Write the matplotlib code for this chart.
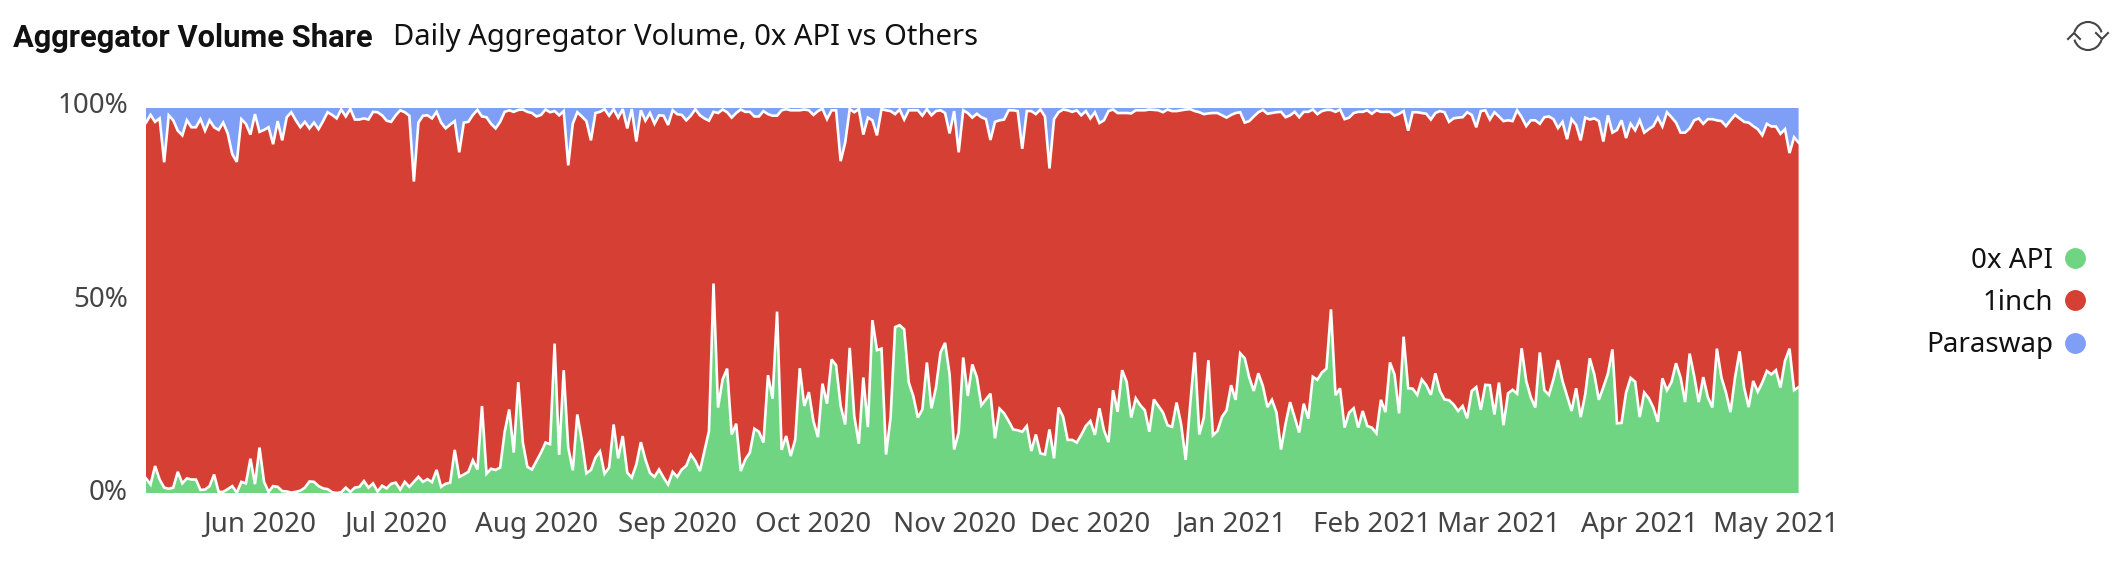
import datetime as dt
import matplotlib
matplotlib.use("Agg")
import matplotlib.pyplot as plt
from matplotlib.lines import Line2D
from matplotlib.patches import Arc
from matplotlib.transforms import ScaledTranslation

W, H = 2116, 580
start = dt.date(2020, 5, 7)

zero_x = [3.8,2.2,7.0,3.5,1.4,1.1,1.4,5.5,2.5,3.8,3.5,3.5,0.8,0.9,1.8,4.8,0.3,0.3,1.0,1.8,0.1,2.9,2.5,8.9,2.3,11.8,2.9,0.3,1.8,1.6,
0.5,0.4,0.1,0.3,0.6,1.4,3.0,2.9,1.8,1.2,1.0,0.2,0,0.2,1.4,0.3,1.4,1.6,3.1,1.4,2.5,0.4,1.9,1.2,2.4,2.7,0.9,2.9,1.6,2.9,
4.2,2.9,3.6,2.8,6.0,1.6,2.4,2.7,11.2,4.2,4.8,5.5,8.5,6.1,22.6,5.0,6.3,6.0,6.6,15.9,21.7,10.5,28.8,13.1,6.8,6.1,8.3,10.5,13.1,12.7,
38.8,9.9,31.9,11.8,5.9,20.4,13.5,5.1,6.0,9.2,10.8,5.0,6.6,17.8,9.0,14.8,5.3,4.0,7.4,13.2,8.7,5.2,4.2,6.1,4.0,2.2,5.5,4.2,6.1,7.1,
10.0,8.3,5.7,10.9,16.1,54.4,22.2,29.5,32.3,15.2,18.0,5.7,8.7,10.5,16.7,15.9,13.1,30.6,24.5,47.1,11.2,14.8,9.6,13.9,32.4,22.6,26.2,18.7,14.5,28.4,
23.2,34.7,33.2,22.6,17.8,37.7,20.0,12.8,30.0,17.1,44.9,37.1,37.5,10.0,19.6,43.1,43.6,42.5,28.7,25.2,19.6,21.7,33.9,22.0,27.4,36.5,39.0,30.8,11.3,15.7,
35.2,25.2,33.4,30.1,22.8,24.3,25.8,14.2,21.9,20.7,18.7,16.5,16.3,15.9,17.4,10.9,15.2,10.3,10.0,16.5,9.0,22.2,19.8,13.8,13.8,13.1,15.1,17.4,18.7,15.1,
22.0,16.3,13.2,26.7,21.1,31.9,28.9,19.6,24.6,22.8,21.5,15.9,24.3,22.6,20.9,17.6,17.2,23.5,17.8,8.6,23.0,36.5,15.2,19.6,34.5,15.0,16.1,19.8,21.5,28.0,
24.2,36.3,35.0,30.0,26.5,31.1,27.8,22.3,24.2,20.9,11.3,18.0,23.6,19.6,15.7,23.2,19.3,30.2,29.4,31.3,32.3,47.7,25.4,27.2,17.0,20.9,22.0,17.0,21.3,17.4,
17.0,15.5,24.2,21.0,33.9,30.8,20.7,40.6,27.2,27.1,25.5,29.5,28.0,25.5,31.1,26.5,24.3,24.1,23.0,21.3,22.6,19.4,26.5,27.5,21.6,28.1,28.0,20.4,28.7,17.6,
25.9,26.8,25.8,37.6,29.1,24.9,22.2,36.5,26.7,25.5,29.5,34.5,29.1,25.2,21.3,27.2,19.7,25.6,35.0,30.8,24.2,27.5,31.0,37.3,18.1,18.2,26.1,29.9,28.9,19.7,
26.1,24.6,22.2,18.5,29.8,26.7,28.8,33.7,30.0,23.6,36.2,30.4,23.6,30.1,24.9,22.2,37.5,30.0,26.1,21.0,30.0,36.8,27.4,22.3,29.1,26.3,28.7,31.7,30.8,31.9,
27.4,34.3,37.5,26.7,27.5]

paraswap = [3.8,1.8,3.6,2.7,14.1,1.9,3.2,5.9,7.1,3.2,5.0,5.0,2.9,5.9,3.2,5.0,5.7,3.8,6.6,12.0,14.0,2.9,4.1,6.9,1.6,6.2,5.7,5.0,9.4,3.4,
8.4,2.4,1.1,3.2,5.0,3.6,5.3,3.8,5.5,3.4,1.1,1.8,2.7,0.4,2.2,0.2,3.0,3.0,2.7,3.0,1.0,1.1,1.9,3.3,3.6,1.9,0.6,1.1,2.0,19.1,
3.8,2.0,1.9,2.7,1.0,3.8,5.3,4.3,3.4,11.5,3.8,3.6,1.8,0.5,2.2,2.4,4.1,5.3,3.6,1.0,0.6,1.0,0.5,0.4,1.0,1.3,2.2,1.8,0.4,1.1,
0.8,1.9,0.8,14.9,4.1,1.1,2.2,3.4,8.4,1.3,1.0,0.3,2.0,0.3,2.5,0.3,5.3,0.3,8.7,0.6,3.3,1.3,4.1,1.9,2.0,4.4,0.6,1.6,1.8,3.2,
2.0,0.3,1.9,2.7,3.3,1.0,1.3,0.4,1.1,2.5,1.3,0.4,1.0,1.0,2.2,2.2,0.8,1.6,2.0,2.0,0.6,0.3,0.6,0.6,0.6,0.4,0.6,1.8,0.8,0.2,
2.9,0.6,0.6,13.8,9.0,0.3,1.1,0.3,6.9,2.5,3.2,7.1,0.3,0.6,0.8,1.6,0.4,3.0,0.6,0.6,0.6,2.0,0.3,1.9,0.8,0.6,1.3,6.6,0.8,11.5,
0.6,1.3,2.5,1.5,2.4,2.9,8.3,3.6,3.2,3.0,0.6,0.6,0.8,10.6,0.8,0.8,1.6,0.4,2.2,15.7,2.9,1.1,0.4,0.6,1.0,0.6,1.9,0.8,2.7,1.1,
3.9,3.2,0.8,0.4,1.3,1.3,1.3,1.4,0.6,0.6,0.6,0.4,0.5,0.6,1.1,0.4,0.8,0.8,0.6,0.4,0.3,0.8,1.1,1.6,1.4,1.3,1.3,1.9,2.5,1.8,
1.3,1.1,3.8,3.4,2.2,1.1,0.5,1.5,1.3,1.1,1.0,2.4,1.9,1.0,2.4,1.0,1.0,0.4,1.6,0.8,0.5,0.5,1.0,0.4,2.9,2.5,1.3,1.0,1.0,0.6,
1.5,0.6,1.0,1.0,1.0,2.0,1.5,0.8,5.9,1.1,1.1,1.3,1.5,3.0,1.3,0.8,1.1,3.6,2.7,2.5,2.4,1.1,1.8,5.0,0.8,0.6,3.0,1.1,2.2,3.4,
3.2,3.4,0.6,2.4,4.7,3.2,3.2,4.1,2.4,2.2,2.9,5.2,3.6,8.1,2.9,4.4,8.4,2.5,3.0,2.7,3.4,8.7,1.9,6.4,5.7,3.2,7.8,4.1,5.8,3.2,
6.4,5.5,4.7,2.5,4.8,1.1,2.4,3.8,6.4,6.4,5.3,3.2,2.7,4.1,2.9,2.9,3.2,3.4,4.7,3.2,1.8,2.7,3.6,3.8,4.7,5.5,7.1,4.1,4.8,4.8,
6.7,5.5,11.7,7.6,9.0]

# The three shares of each day add up to 100 %.
oneinch = [100 - a - b for a, b in zip(zero_x, paraswap)]
dates = [start + dt.timedelta(days=i) for i in range(len(zero_x))]

series_names = ["0x API", "1inch", "Paraswap"]
colors = ["#70D582", "#D63F33", "#7F9FF7"]
month_ticks = [dt.date(2020, m, 1) for m in range(6, 13)] + [dt.date(2021, m, 1) for m in range(1, 6)]

plt.rcParams["font.family"] = ["Noto Sans", "DejaVu Sans"]
fig = plt.figure(figsize=(W / 100, H / 100), dpi=100)
L, R, T, B = 146, 1798.6, 108, 493
ax = fig.add_axes([L / W, 1 - B / H, (R - L) / W, (B - T) / H])

ax.stackplot(dates, zero_x, oneinch, paraswap, colors=colors, linewidth=0, labels=series_names)
lower = zero_x
upper = [a + b for a, b in zip(zero_x, oneinch)]
ax.plot(dates, lower, color="white", lw=1.9, solid_joinstyle="miter")
ax.plot(dates, upper, color="white", lw=1.9, solid_joinstyle="miter")

ax.set_xlim(dates[0], dates[-1])
ax.set_ylim(0, 100)
for s in ax.spines.values():
    s.set_visible(False)
ax.set_yticks([0, 50, 100], ["0%", "50%", "100%"])
ax.set_xticks(month_ticks, [d.strftime("%b %Y") for d in month_ticks])
ax.tick_params(axis="both", length=0, labelsize=20, labelcolor="#444444")
ax.tick_params(axis="y", pad=13)
ax.tick_params(axis="x", pad=13)
for lab, dy in zip(ax.get_yticklabels(), (4, 4, 5)):
    lab.set_transform(lab.get_transform() + ScaledTranslation(0, dy / 72 * 0.72, fig.dpi_scale_trans))

handles = [Line2D([], [], ls="", marker="o", ms=14, color=c, mec=c) for c in colors]
fig.legend(handles, series_names, loc="center right", bbox_to_anchor=(2089 / W, 1 - 303 / H),
           frameon=False, markerfirst=False, fontsize=20, labelcolor="#111111",
           handletextpad=0.3, labelspacing=0.52, borderpad=0, borderaxespad=0, handlelength=1.0)

fig.text(13 / W, 1 - 38 / H, "Aggregator Volume Share", fontsize=22.2, fontfamily="Roboto",
         fontweight="bold", color="#111111", va="center")
fig.text(393 / W, 1 - 38 / H, "Daily Aggregator Volume, 0x API vs Others", fontsize=21, color="#111111", va="center")

# Refresh icon, drawn in pixel coordinates
ov = fig.add_axes([0, 0, 1, 1], facecolor="none")
ov.set_xlim(0, W)
ov.set_ylim(H, 0)
ov.axis("off")
ic = "#444444"
ov.add_patch(Arc((2088, 36), 28, 28, theta1=195, theta2=345, color=ic, lw=1.5))
ov.add_patch(Arc((2088, 36), 28, 28, theta1=15, theta2=165, color=ic, lw=1.5))
ov.plot([2096, 2102, 2108], [33, 39, 33], color=ic, lw=1.5)
ov.plot([2068, 2074, 2080], [39, 33, 39], color=ic, lw=1.5)

fig.savefig("out.png", dpi=100)
